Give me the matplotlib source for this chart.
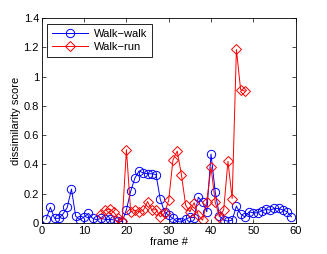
import matplotlib
matplotlib.use("Agg")
import matplotlib.pyplot as plt

plt.rcParams['font.family'] = ['Liberation Sans', 'DejaVu Sans']

frames_walk = list(range(1, 60))
walk_walk = [0.025, 0.105, 0.03, 0.03, 0.06, 0.105, 0.23, 0.045, 0.02, 0.04,
             0.064, 0.03, 0.02, 0.03, 0.023, 0.023, 0.02, 0.011, 0.008, 0.09,
             0.215, 0.305, 0.355, 0.34, 0.335, 0.335, 0.33, 0.16, 0.075, 0.05,
             0.03, 0.008, 0.005, 0.025, 0.037, 0.035, 0.175, 0.14, 0.075, 0.47,
             0.21, 0.046, 0.018, 0.011, 0.018, 0.114, 0.06, 0.04, 0.075, 0.068,
             0.068, 0.082, 0.091, 0.087, 0.098, 0.098, 0.087, 0.075, 0.041]

frames_run = list(range(14, 49))
walk_run = [0.06, 0.087, 0.095, 0.072, 0.035, 0.015, 0.50, 0.075, 0.085, 0.075,
            0.085, 0.145, 0.087, 0.09, 0.04, 0.065, 0.155, 0.43, 0.49, 0.33,
            0.12, 0.075, 0.137, 0.05, 0.018, 0.144, 0.38, 0.14, 0.04, 0.09,
            0.42, 0.165, 1.185, 0.91, 0.90]

x_ticks = [0, 10, 20, 30, 40, 50, 60]
y_ticks = [0, 0.2, 0.4, 0.6, 0.8, 1.0, 1.2, 1.4]
y_tick_labels = ["0", "0.2", "0.4", "0.6", "0.8", "1", "1.2", "1.4"]

fs = 8
fig = plt.figure(figsize=(3.27, 2.54), dpi=100)
ax = fig.add_axes([0.128, 0.123, 0.776, 0.806])

ax.plot(frames_walk, walk_walk, color="blue", lw=0.7, marker="o", ms=6,
        mfc="none", mec="blue", mew=0.7, label="Walk\u2212walk")
ax.plot(frames_run, walk_run, color="red", lw=0.7, marker="D", ms=4.6,
        mfc="none", mec="red", mew=0.7, label="Walk\u2212run")

ax.set_xlim(0, 60)
ax.set_ylim(0, 1.4)
ax.set_xticks(x_ticks)
ax.set_yticks(y_ticks)
ax.set_yticklabels(y_tick_labels)
ax.tick_params(direction="in", top=True, right=True, length=3, width=0.5,
               labelsize=fs, pad=2)
for s in ax.spines.values():
    s.set_linewidth(0.6)
ax.set_xlabel("frame #", fontsize=fs, labelpad=1)
ax.set_ylabel("dissimilarity score", fontsize=fs, labelpad=2)

leg = ax.legend(loc="upper left", fontsize=fs, fancybox=False, framealpha=1,
                edgecolor="black", borderpad=0.45, handlelength=3.2,
                borderaxespad=0.5, labelspacing=0.3, handletextpad=0.5)
leg.get_frame().set_linewidth(0.6)

fig.savefig("out.png", dpi=100)
